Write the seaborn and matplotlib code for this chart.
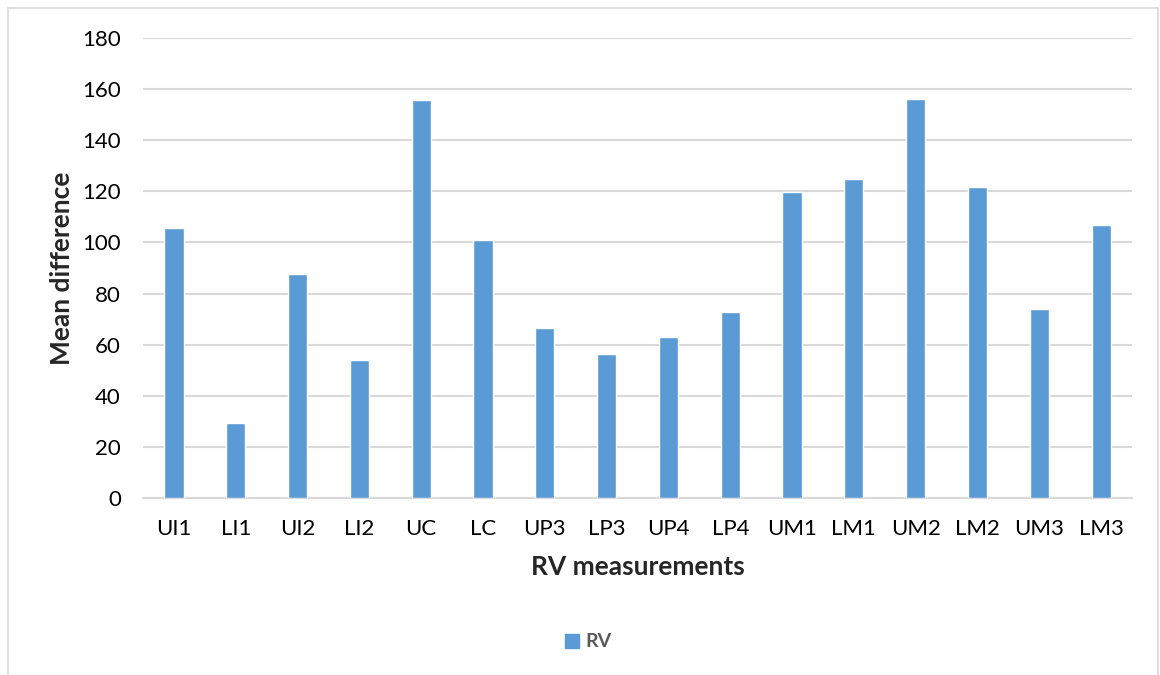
import pandas as pd
import matplotlib
matplotlib.use('Agg')
import matplotlib.pyplot as plt
import seaborn as sns
from matplotlib.lines import Line2D

# Datos
mediciones = ['UI1', 'LI1', 'UI2', 'LI2', 'UC', 'LC', 'UP3', 'LP3',
              'UP4', 'LP4', 'UM1', 'LM1', 'UM2', 'LM2', 'UM3', 'LM3']
media_dif = [105.6, 29.3, 87.8, 54.1, 155.7, 101.0, 66.6, 56.5,
             63.1, 73.0, 119.5, 124.6, 156.0, 121.5, 74.0, 106.9]
serie = 'RV'

AZUL = '#5B9BD5'
GRIS = '#D9D9D9'

sns.set_theme(style='white')
plt.rcParams['font.family'] = ['Lato', 'DejaVu Sans']

df = pd.DataFrame({'medicion': mediciones, 'media': media_dif})

fig = plt.figure(figsize=(11.6, 6.75), dpi=100, facecolor='white')
ax = fig.add_axes([0.1233, 0.2615, 0.8526, 0.6829])

sns.barplot(data=df, x='medicion', y='media', color=AZUL, width=0.31,
            saturation=1, ax=ax, zorder=3)

ax.set_ylim(0, 180)
ax.set_yticks(range(0, 181, 20))
ax.yaxis.grid(True, color=GRIS, linewidth=1.5, zorder=0)
ax.set_axisbelow(True)
for s in ['top', 'right', 'left']:
    ax.spines[s].set_visible(False)
ax.spines['bottom'].set_color(GRIS)
ax.spines['bottom'].set_linewidth(1.5)
ax.tick_params(axis='both', length=0, labelsize=16, colors='#000000')
ax.tick_params(axis='y', pad=16)
ax.tick_params(axis='x', pad=15)

ax.set_xlabel('RV measurements', fontsize=19, fontweight='bold', labelpad=11)
ax.set_ylabel('Mean difference', fontsize=19, fontweight='bold', labelpad=6)

# Leyenda inferior
handle = Line2D([], [], marker='s', linestyle='', markersize=10.5,
                markerfacecolor=AZUL, markeredgecolor=AZUL, label=serie)
leg = fig.legend(handles=[handle], loc='center', bbox_to_anchor=(0.507, 0.049),
                 frameon=False, fontsize=14, handlelength=0.8, handletextpad=0.3)
for t in leg.get_texts():
    t.set_color('#595959')
    t.set_fontweight('bold')

# Marco del gráfico
fig.add_artist(Line2D([8/1160, 8/1160], [0, 1 - 8/675], color=GRIS, linewidth=1.2,
                      transform=fig.transFigure))
fig.add_artist(Line2D([8/1160, 1158/1160], [1 - 8/675, 1 - 8/675], color=GRIS,
                      linewidth=1.2, transform=fig.transFigure))
fig.add_artist(Line2D([1158/1160, 1158/1160], [0, 1 - 8/675], color=GRIS, linewidth=1.2,
                      transform=fig.transFigure))

plt.savefig('out.png', dpi=100)
plt.close()
